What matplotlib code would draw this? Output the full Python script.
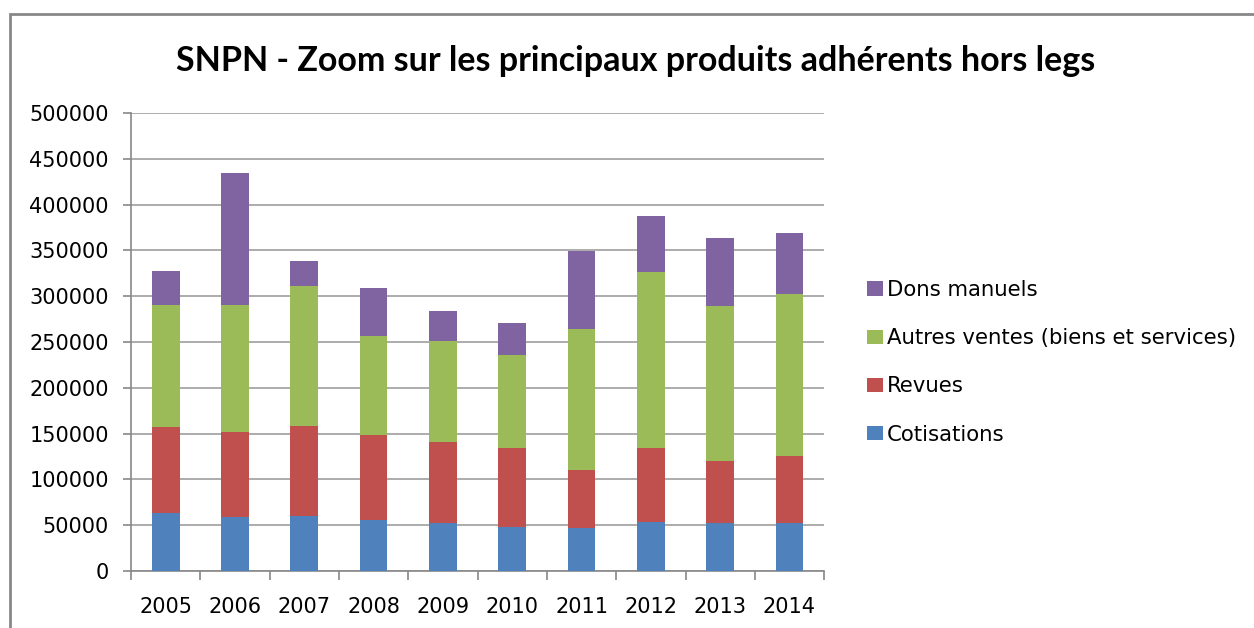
import numpy as np
import matplotlib.pyplot as plt
from matplotlib.patches import Rectangle

plt.rcParams['font.family'] = ['DejaVu Sans']

years = ['2005', '2006', '2007', '2008', '2009', '2010', '2011', '2012', '2013', '2014']
cotisations = [63200, 58800, 60300, 55900, 51900, 48500, 46700, 53600, 52500, 52500]
revues = [93900, 92800, 98200, 92800, 88400, 85300, 63400, 80200, 67500, 72900]
autres_ventes = [133300, 138800, 153100, 108100, 110700, 102100, 153900, 192200, 169500, 176500]
dons_manuels = [36900, 143600, 27000, 52200, 32500, 35000, 85000, 62000, 74400, 67500]

series = [
    ('Cotisations', cotisations, '#4F81BD'),
    ('Revues', revues, '#C0504D'),
    ('Autres ventes (biens et services)', autres_ventes, '#9BBB59'),
    ('Dons manuels', dons_manuels, '#8064A2'),
]

fig = plt.figure(figsize=(12.54, 6.28), dpi=100)
ax = fig.add_axes([0.1045, 0.0908, 0.5527, 0.7293])

ind = np.arange(len(years))
bottom = np.zeros(len(years))
handles = []
for label, vals, color in series:
    b = ax.bar(ind, vals, 0.4, bottom=bottom, color=color, label=label, zorder=3)
    handles.append(b)
    bottom += np.array(vals)

ax.set_xlim(-0.5, len(years) - 0.5)
ax.set_ylim(0, 500000)
ax.set_yticks(np.arange(0, 500001, 50000))
ax.yaxis.grid(True, color='#a6a6a6', linewidth=1.3, zorder=0)
ax.set_axisbelow(True)

ax.set_xticks(ind)
ax.set_xticklabels(years, fontsize=15)
ax.set_xticks(np.arange(-0.5, len(years)), minor=True)
ax.tick_params(axis='x', which='major', length=0, pad=19)
ax.tick_params(axis='x', which='minor', length=6.5, color='#888888', width=1.2)
ax.tick_params(axis='y', length=6, color='#888888', width=1.2, labelsize=15, pad=10)

for side in ['top', 'right']:
    ax.spines[side].set_visible(False)
for side in ['left', 'bottom']:
    ax.spines[side].set_color('#888888')
    ax.spines[side].set_linewidth(1.2)

fig.text(0.507, 0.903, 'SNPN - Zoom sur les principaux produits adhérents hors legs',
         ha='center', va='center', fontsize=24.5, fontweight='bold', family='Lato')

leg = fig.legend(handles[::-1], [s[0] for s in series][::-1], loc='center left',
                 bbox_to_anchor=(0.676, 0.423), frameon=False, fontsize=15.3,
                 handlelength=0.75, handleheight=0.65, labelspacing=1.33, handletextpad=0.2)

fig.patches.append(Rectangle((10 / 1254, -0.05), 1.0, 1 - 14 / 628 + 0.05,
                             transform=fig.transFigure, fill=False,
                             edgecolor='#878787', linewidth=2))

fig.savefig('out.png', dpi=100)
